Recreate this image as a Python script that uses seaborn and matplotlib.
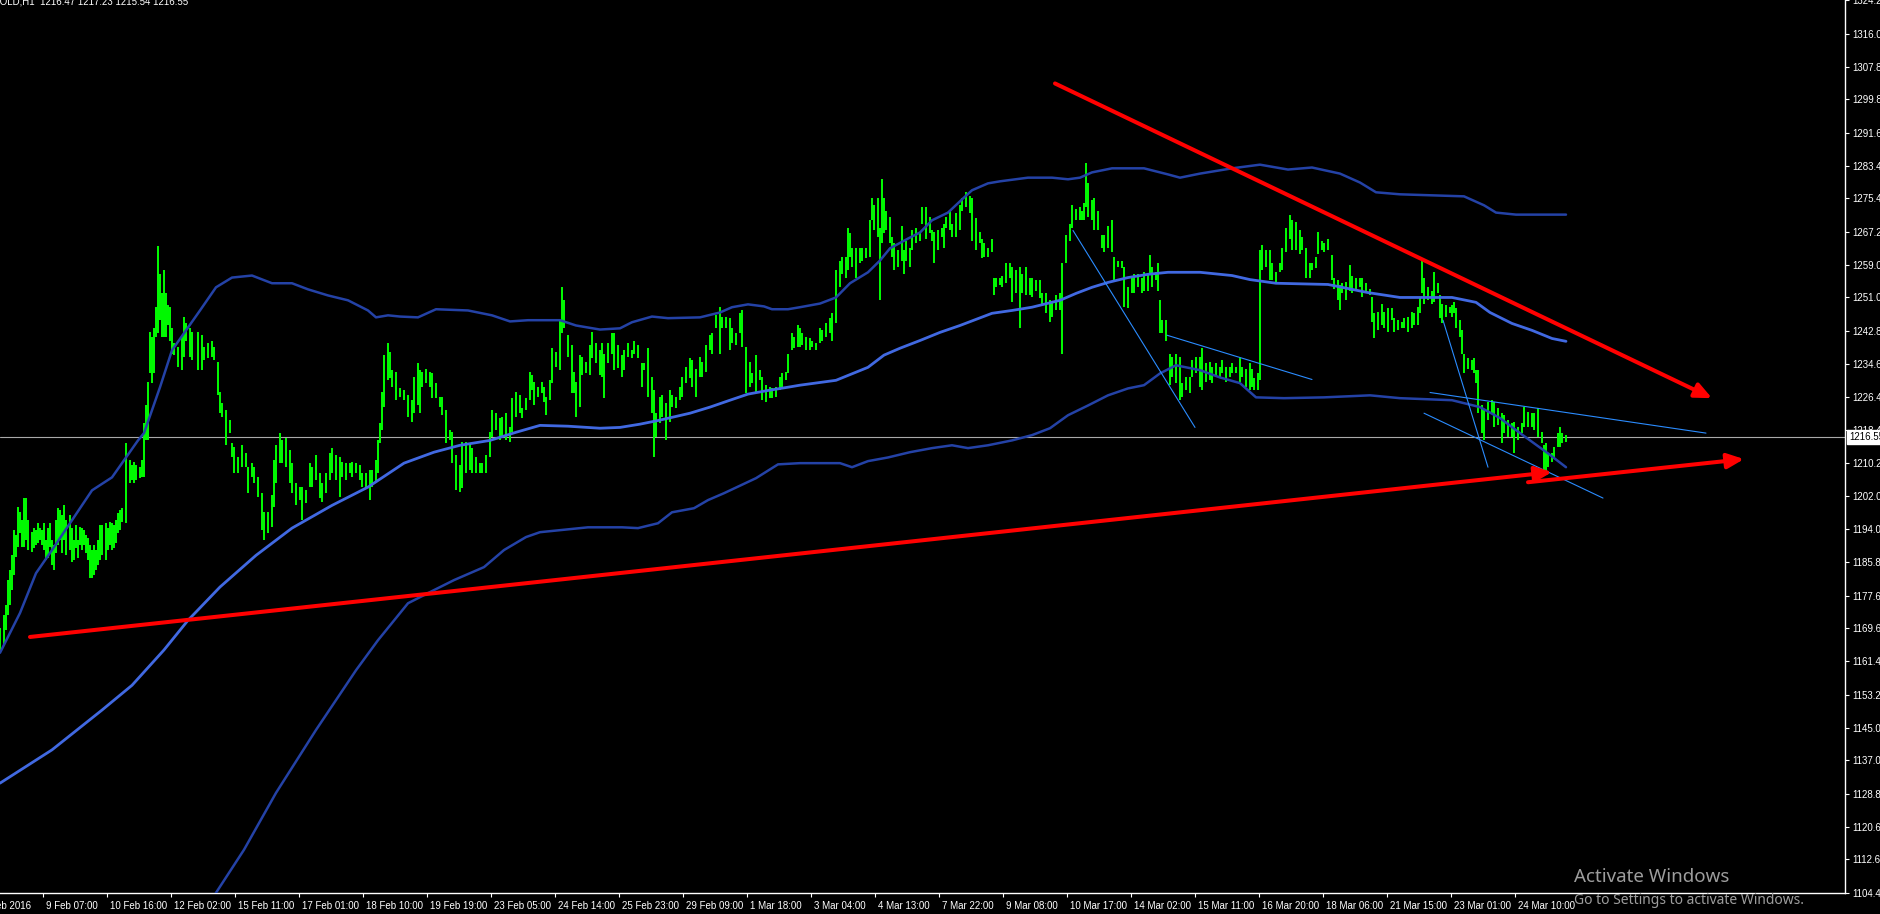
import matplotlib
matplotlib.use("Agg")
import matplotlib.pyplot as plt
import matplotlib.transforms as mtransforms
import seaborn as sns

# ---------------- data ----------------
symbol_line = "GOLD,H1  1216.47 1217.23 1215.54 1216.55"
last_price = 1216.55

price_labels = ["1324.2", "1316.0", "1307.8", "1299.8", "1291.6", "1283.4", "1275.4",
                "1267.2", "1259.0", "1251.0", "1242.8", "1234.6", "1226.4", "1218.4",
                "1210.2", "1202.0", "1194.0", "1185.8", "1177.6", "1169.6", "1161.4",
                "1153.2", "1145.0", "1137.0", "1128.8", "1120.6", "1112.6", "1104.4"]

time_labels = ["8 Feb 2016", "9 Feb 07:00", "10 Feb 16:00", "12 Feb 02:00", "15 Feb 11:00",
               "17 Feb 01:00", "18 Feb 10:00", "19 Feb 19:00", "23 Feb 05:00", "24 Feb 14:00",
               "25 Feb 23:00", "29 Feb 09:00", "1 Mar 18:00", "3 Mar 04:00", "4 Mar 13:00",
               "7 Mar 22:00", "9 Mar 08:00", "10 Mar 17:00", "14 Mar 02:00", "15 Mar 11:00",
               "16 Mar 20:00", "18 Mar 06:00", "21 Mar 15:00", "23 Mar 01:00", "24 Mar 10:00"]
first_label_hour = -10.5     # bar index (H1 bars) of the first time label
label_step_hours = 32        # bars between time labels

# H1 bars: bar index, high, low
bar_hour = [
    0, 2, 3, 4, 5, 6, 7, 8, 9, 10, 11, 12, 13, 14, 16, 17, 18, 19, 20, 21, 22, 23, 24, 25, 26, 27,
    28, 29, 30, 31, 32, 33, 35, 36, 37, 38, 39, 40, 41, 42, 43, 44, 45, 46, 47, 48, 49, 50, 51, 53,
    54, 55, 56, 57, 58, 59, 60, 61, 63, 65, 66, 67, 68, 70, 71, 72, 73, 74, 75, 76, 77, 78, 79, 80,
    81, 82, 83, 84, 85, 86, 87, 89, 91, 92, 93, 95, 96, 99, 101, 102, 104, 106, 107, 109, 110, 111,
    113, 115, 116, 117, 119, 121, 123, 124, 126, 127, 129, 131, 132, 134, 136, 137, 138, 140, 141,
    143, 145, 146, 148, 150, 151, 153, 155, 156, 158, 160, 161, 163, 165, 166, 168, 170, 171, 173,
    175, 176, 178, 180, 181, 183, 185, 186, 188, 189, 190, 191, 192, 194, 195, 196, 198,
    200, 202, 204, 206, 207, 209, 210, 211, 213, 215, 216, 218, 220, 221, 223, 225, 226, 228, 230,
    231, 233, 235, 236, 238, 240, 241, 243, 245, 246, 248, 250, 251, 253, 255, 256, 258, 260, 261,
    263, 265, 266, 267, 269, 271, 272, 273, 275, 276, 278, 280, 281, 282, 284, 286, 287, 288, 290,
    291, 293, 295, 296, 298, 300, 301, 302, 304, 306, 307, 309, 311, 312, 314, 316, 317, 319, 321,
    322, 324, 326, 327, 328, 330, 331, 333, 335, 336, 338, 340, 341, 343, 345, 346, 348, 350, 351,
    353, 355, 356, 358, 360, 361, 363, 365, 366, 368, 370, 371, 373, 375, 376, 378, 380, 381, 383,
    385, 386, 388, 390, 391, 393, 394, 396, 397, 399,
    400, 401, 403, 405, 406, 408, 410, 411, 413, 415, 416, 418, 420, 421, 423, 424, 425, 426, 428,
    430, 431, 433, 435, 436, 437, 439, 440, 441, 442, 443, 445, 446, 447, 449, 451, 452, 453, 455,
    456, 458, 460, 461, 463, 465, 466, 467, 469, 471, 472, 473, 475, 476, 478, 480, 481, 483, 485,
    486, 488, 490, 491, 492, 494, 496, 497, 498, 500, 501, 503, 505, 506, 508, 510, 511, 513, 515,
    516, 518, 520, 521, 523, 525, 526, 528, 530, 531, 533, 535, 536, 538, 540, 541, 542, 543, 544,
    546, 547, 549, 551, 552, 554, 556, 557, 559, 561, 562, 564, 566, 567, 569, 571, 572, 574, 575,
    576, 578, 579, 580, 581, 583, 585, 586, 588, 590, 591, 593, 595, 596, 598,
    600, 601, 603, 605, 606, 608, 610, 611, 613, 615, 616, 618, 620, 621, 623, 625, 626, 627, 629,
    630, 631, 633, 635, 636, 638, 640, 641, 643, 645, 646, 648, 650, 651, 653, 655, 656, 658, 659,
    661, 662, 664, 666, 667, 669, 670, 671, 673, 675, 676, 678, 680, 681, 683, 685, 686, 687, 689,
    691, 692, 694, 696, 697, 699, 701, 702, 704, 706, 707, 709, 710, 711, 712, 714, 716, 717, 719,
    720, 721, 723, 725, 726, 727, 728, 730, 731, 732, 734, 736, 737, 738, 739, 741, 742, 744, 746,
    747, 749, 751, 752, 754, 756, 757, 759, 761, 762, 764, 766, 767, 769, 771, 772, 773, 774, 776,
    777, 779, 780, 781, 783]

bar_high = [
    1169.6, 1172.8, 1175.3, 1181.4, 1183.8, 1187.6, 1193.7, 1192.5, 1199.4, 1198.2, 1196.2, 1201.6,
    1201.6, 1196.2, 1193.2, 1194.2, 1193.7, 1195.4, 1194.2, 1193.7, 1195.4, 1191.2, 1194.2, 1195.4,
    1191.2, 1190.0, 1196.2, 1199.1, 1198.6, 1197.4, 1199.8, 1196.2, 1197.4, 1194.2, 1191.2, 1194.9,
    1191.2, 1194.4, 1194.2, 1193.7, 1192.5, 1191.7, 1190.0, 1188.8, 1190.0, 1188.8, 1191.2, 1194.9,
    1194.9, 1195.4, 1194.2, 1195.7, 1195.4, 1194.9, 1196.2, 1197.9, 1198.6, 1199.1, 1215.1, 1210.9,
    1209.7, 1210.4, 1209.7, 1209.2, 1210.9, 1220.0, 1224.4, 1230.1, 1242.4, 1241.2, 1243.6, 1248.6,
    1263.6, 1256.9, 1252.2, 1257.7, 1252.2, 1249.1, 1248.6, 1243.6, 1239.9, 1238.7, 1241.2, 1246.1,
    1244.6, 1243.4, 1242.4, 1242.4, 1241.7, 1238.7, 1239.7, 1240.4, 1238.7, 1235.0, 1227.6, 1224.9,
    1223.2, 1220.8, 1215.1, 1214.1, 1211.6, 1214.6, 1212.6, 1209.2, 1210.2, 1209.2, 1206.7, 1202.8,
    1198.1, 1198.1, 1202.3, 1210.9, 1214.6, 1217.6, 1215.8, 1216.3, 1213.4, 1210.2, 1205.3, 1204.3,
    1204.3, 1203.5, 1210.2, 1209.2, 1212.1, 1207.7, 1205.3, 1207.7, 1212.6, 1213.9, 1212.1, 1211.6,
    1210.4, 1210.2, 1210.2, 1210.4, 1210.2, 1209.7, 1207.7, 1207.7, 1208.5, 1208.5, 1210.9, 1215.8,
    1220.0, 1227.6, 1236.8, 1239.9, 1237.5, 1233.1, 1232.6,
    1228.6, 1228.1, 1226.9, 1225.7, 1231.3, 1234.8, 1233.1, 1232.6, 1233.5, 1232.6, 1232.3, 1229.9,
    1226.4, 1226.4, 1223.2, 1218.3, 1217.8, 1212.1, 1209.7, 1215.3, 1215.3, 1215.1, 1213.9, 1211.6,
    1210.2, 1210.2, 1212.1, 1217.8, 1223.2, 1222.5, 1221.3, 1221.5, 1222.5, 1219.0, 1226.2, 1227.6,
    1226.9, 1223.7, 1226.2, 1232.6, 1231.8, 1230.1, 1228.9, 1230.1, 1228.9, 1226.4, 1230.6, 1238.5,
    1237.5, 1245.4, 1253.5, 1250.3, 1241.7, 1239.2, 1232.6, 1230.1, 1236.8, 1236.3, 1235.0, 1239.2,
    1242.4, 1239.9, 1238.0, 1239.9, 1237.2, 1239.9, 1242.2, 1242.2, 1239.2, 1236.8, 1238.0, 1239.9,
    1238.0, 1240.4, 1239.2, 1234.8, 1234.8, 1238.5, 1231.3, 1228.1, 1222.5, 1226.4, 1226.9, 1224.9,
    1228.1, 1226.9, 1226.4, 1228.9, 1231.3, 1233.8, 1236.0, 1235.5, 1233.5, 1236.3, 1235.0, 1239.2,
    1241.7, 1242.2, 1246.6, 1248.6, 1246.1, 1246.1, 1245.9, 1243.4, 1242.2, 1247.1, 1247.8, 1238.7,
    1235.0, 1232.3, 1236.8, 1233.1, 1231.3, 1229.4, 1228.9, 1228.6, 1228.9, 1231.3, 1232.3, 1232.6,
    1237.2, 1242.2, 1241.2, 1244.1,
    1243.6, 1242.2, 1241.2, 1240.9, 1240.4, 1239.9, 1243.4, 1242.9, 1244.6, 1245.9, 1247.1, 1257.7,
    1260.1, 1260.9, 1260.9, 1268.2, 1266.8, 1263.3, 1263.1, 1263.1, 1263.1, 1263.1, 1270.0, 1275.4,
    1273.7, 1275.4, 1268.2, 1280.1, 1275.6, 1272.4, 1270.7, 1265.8, 1264.3, 1262.6, 1268.7, 1262.6,
    1265.0, 1263.3, 1267.5, 1268.2, 1267.0, 1273.2, 1273.2, 1270.7, 1267.5, 1267.0, 1267.5, 1268.2,
    1269.2, 1270.7, 1272.4, 1269.2, 1271.7, 1273.7, 1275.6, 1276.9, 1276.1, 1275.6, 1270.5, 1267.0,
    1265.5, 1264.5, 1263.3, 1265.5, 1255.9, 1255.9, 1255.7, 1256.4, 1259.4, 1259.6, 1258.4, 1257.7,
    1258.4, 1256.9, 1258.4, 1255.7, 1255.9, 1255.2, 1255.2, 1252.2, 1252.2, 1250.3, 1249.8, 1251.5,
    1252.0, 1259.4, 1266.3, 1269.2, 1273.7, 1272.9, 1273.2, 1272.4, 1274.2, 1284.2, 1279.1, 1274.9,
    1275.6, 1272.4, 1266.3, 1266.3, 1268.7, 1270.0, 1260.9, 1260.1, 1260.1, 1258.4, 1253.5, 1255.9,
    1256.9, 1256.9, 1255.9, 1257.2, 1256.9, 1261.4, 1258.4, 1257.2, 1259.4, 1250.3, 1245.4, 1245.4,
    1237.2, 1236.3, 1237.2, 1236.3, 1229.9, 1231.3, 1231.3, 1235.5, 1236.3,
    1236.3, 1238.5, 1234.8, 1235.0, 1233.8, 1234.8, 1233.8, 1235.5, 1233.8, 1233.8, 1234.8, 1233.8,
    1236.0, 1233.8, 1233.5, 1234.8, 1233.5, 1231.1, 1232.3, 1262.6, 1263.8, 1262.6, 1262.6, 1259.4,
    1257.2, 1259.6, 1263.3, 1268.2, 1271.2, 1270.0, 1269.5, 1267.5, 1265.8, 1263.1, 1259.4, 1259.6,
    1260.9, 1267.0, 1265.0, 1264.3, 1265.5, 1261.4, 1255.7, 1255.2, 1254.0, 1254.5, 1254.7, 1258.9,
    1256.4, 1255.9, 1255.9, 1255.7, 1254.5, 1253.2, 1251.0, 1247.1, 1247.3, 1249.5, 1247.3, 1248.3,
    1248.3, 1245.9, 1245.4, 1244.9, 1245.9, 1246.1, 1247.3, 1247.1, 1248.6, 1250.8, 1260.1, 1255.9,
    1253.5, 1252.7, 1257.2, 1254.5, 1251.5, 1249.5, 1249.1, 1248.6, 1249.1, 1249.8, 1248.3, 1245.4,
    1242.9, 1237.2, 1236.0, 1235.5, 1236.0, 1233.1, 1233.1, 1224.4, 1223.2, 1225.2, 1225.7, 1225.2,
    1223.7, 1222.5, 1222.0, 1220.8, 1220.0, 1220.3, 1219.0, 1220.0, 1224.0, 1222.7, 1222.5, 1222.5,
    1223.7, 1217.8, 1214.6, 1215.1, 1212.6, 1212.6, 1214.1, 1217.6, 1219.0, 1217.6, 1217.2]

bar_low = [
    1164.2, 1165.4, 1169.1, 1172.8, 1175.3, 1178.9, 1182.7, 1187.1, 1189.5, 1193.0, 1189.5, 1189.5,
    1191.2, 1188.8, 1188.3, 1189.3, 1190.0, 1190.5, 1191.2, 1190.0, 1188.8, 1186.3, 1186.8, 1189.5,
    1185.1, 1183.8, 1188.0, 1190.0, 1191.2, 1188.0, 1191.2, 1187.6, 1188.8, 1185.8, 1186.3, 1189.3,
    1186.8, 1190.0, 1188.8, 1190.0, 1188.0, 1186.3, 1181.9, 1181.9, 1182.6, 1183.8, 1185.1, 1186.3,
    1187.6, 1186.3, 1188.8, 1190.0, 1188.8, 1189.3, 1190.5, 1193.0, 1193.7, 1195.7, 1195.4, 1205.3,
    1206.0, 1205.3, 1206.0, 1206.5, 1206.7, 1206.7, 1215.8, 1215.8, 1232.3, 1229.9, 1232.3, 1241.2,
    1242.2, 1245.4, 1241.2, 1241.2, 1241.2, 1244.1, 1240.4, 1237.2, 1236.8, 1233.8, 1233.1, 1236.3,
    1240.4, 1236.3, 1235.5, 1233.1, 1233.1, 1235.5, 1236.0, 1236.3, 1235.5, 1226.9, 1222.5, 1221.5,
    1214.6, 1217.6, 1211.6, 1207.7, 1207.7, 1209.2, 1209.2, 1202.8, 1206.7, 1205.3, 1201.8, 1193.7,
    1191.2, 1193.0, 1194.4, 1199.4, 1205.3, 1210.2, 1210.2, 1209.2, 1205.3, 1202.8, 1199.8, 1201.1,
    1196.2, 1200.3, 1204.3, 1204.3, 1206.0, 1201.6, 1200.6, 1202.8, 1206.0, 1207.7, 1206.0, 1201.8,
    1206.7, 1206.0, 1207.7, 1206.7, 1207.7, 1206.0, 1204.3, 1204.3, 1201.1, 1204.3, 1205.3, 1207.7,
    1215.1, 1218.3, 1224.0, 1230.6, 1231.1, 1228.9, 1225.7,
    1226.4, 1225.7, 1221.5, 1220.3, 1222.5, 1224.4, 1222.5, 1228.9, 1229.9, 1228.9, 1226.2, 1226.2,
    1224.0, 1222.0, 1215.1, 1215.8, 1210.2, 1203.5, 1203.0, 1204.0, 1207.7, 1208.5, 1207.7, 1207.7,
    1207.7, 1207.7, 1207.7, 1211.6, 1216.6, 1218.3, 1215.8, 1216.6, 1215.8, 1215.3, 1217.8, 1221.5,
    1222.5, 1221.3, 1223.2, 1225.7, 1228.1, 1224.4, 1226.4, 1227.4, 1225.2, 1222.0, 1225.7, 1229.9,
    1233.8, 1233.1, 1242.2, 1243.6, 1236.3, 1227.4, 1227.4, 1221.5, 1224.0, 1231.8, 1232.3, 1231.8,
    1236.0, 1234.8, 1231.8, 1231.3, 1226.2, 1234.8, 1237.2, 1233.1, 1233.6, 1231.3, 1233.1, 1236.3,
    1236.0, 1237.2, 1236.0, 1228.9, 1233.1, 1226.4, 1222.5, 1211.6, 1216.6, 1220.0, 1221.5, 1215.8,
    1220.3, 1224.0, 1223.7, 1225.7, 1226.4, 1229.9, 1231.1, 1228.9, 1226.4, 1231.3, 1231.3, 1232.6,
    1238.0, 1237.2, 1243.6, 1237.2, 1243.6, 1243.4, 1238.0, 1239.7, 1239.2, 1242.2, 1238.7, 1227.4,
    1228.9, 1229.9, 1227.4, 1230.6, 1225.7, 1225.2, 1226.2, 1226.2, 1226.4, 1228.1, 1228.9, 1230.6,
    1232.3, 1238.0, 1238.5, 1238.7,
    1238.7, 1239.2, 1238.0, 1238.0, 1238.7, 1238.0, 1239.9, 1240.4, 1241.2, 1242.2, 1240.4, 1244.6,
    1253.5, 1256.9, 1255.9, 1257.7, 1260.9, 1258.4, 1255.9, 1259.4, 1260.1, 1260.6, 1260.9, 1270.0,
    1267.5, 1265.8, 1250.3, 1264.3, 1266.8, 1267.5, 1264.3, 1260.9, 1257.7, 1258.4, 1260.1, 1256.9,
    1260.1, 1258.4, 1262.6, 1264.3, 1265.0, 1269.2, 1265.5, 1266.8, 1265.0, 1259.4, 1262.6, 1265.8,
    1263.3, 1268.2, 1267.5, 1265.8, 1265.8, 1267.5, 1272.4, 1273.2, 1271.9, 1265.0, 1262.6, 1264.5,
    1260.6, 1260.9, 1260.9, 1262.1, 1251.5, 1253.5, 1254.0, 1253.5, 1254.5, 1255.9, 1249.8, 1252.0,
    1243.4, 1252.2, 1251.5, 1251.5, 1251.0, 1252.7, 1250.8, 1249.5, 1247.1, 1244.9, 1246.1, 1247.8,
    1247.8, 1237.2, 1259.4, 1265.0, 1268.0, 1270.0, 1270.0, 1270.0, 1270.0, 1273.2, 1270.7, 1270.0,
    1267.5, 1267.5, 1263.1, 1262.1, 1263.3, 1262.1, 1255.2, 1258.4, 1258.2, 1248.6, 1248.3, 1252.0,
    1252.2, 1253.5, 1252.2, 1252.7, 1252.7, 1256.9, 1253.5, 1255.2, 1252.7, 1242.2, 1242.2, 1240.4,
    1229.4, 1231.3, 1229.9, 1225.7, 1226.4, 1228.1, 1227.4, 1231.3, 1232.3,
    1228.9, 1228.1, 1230.1, 1230.6, 1229.9, 1231.3, 1231.3, 1232.3, 1230.1, 1231.3, 1232.3, 1232.3,
    1230.1, 1231.3, 1228.9, 1228.1, 1228.9, 1228.1, 1228.1, 1230.6, 1257.7, 1258.4, 1255.2, 1255.2,
    1254.7, 1257.2, 1257.7, 1262.1, 1265.5, 1262.6, 1262.6, 1261.8, 1262.6, 1255.9, 1255.9, 1257.7,
    1258.2, 1261.8, 1262.6, 1262.1, 1262.6, 1255.2, 1253.2, 1250.3, 1247.8, 1252.0, 1250.3, 1252.7,
    1252.0, 1253.2, 1253.5, 1251.0, 1252.0, 1251.5, 1244.9, 1240.9, 1242.9, 1244.1, 1243.6, 1242.4,
    1245.4, 1242.4, 1242.9, 1243.4, 1243.6, 1242.4, 1243.6, 1244.1, 1244.1, 1247.1, 1252.0, 1249.5,
    1250.3, 1249.5, 1249.8, 1252.0, 1245.9, 1244.6, 1246.1, 1247.1, 1246.1, 1247.1, 1243.6, 1241.2,
    1237.2, 1232.3, 1233.5, 1233.1, 1232.3, 1229.9, 1222.5, 1217.6, 1215.8, 1220.8, 1222.5, 1219.0,
    1219.5, 1215.1, 1217.6, 1216.6, 1216.6, 1212.6, 1215.8, 1217.6, 1219.0, 1219.0, 1219.0, 1218.3,
    1216.6, 1215.1, 1208.5, 1207.7, 1209.2, 1210.4, 1211.6, 1214.1, 1214.1, 1215.1, 1215.5]

# indicator bands (bar index, price)
upper_hour = [0, 10, 18, 26, 46, 56, 69, 72, 80, 86, 100, 108, 116, 126, 136, 146, 154, 164, 174,
              184, 188, 194, 200, 209, 218, 234, 246, 255, 264, 280, 288, 300, 310, 316, 326, 334,
              350, 360, 366, 374, 382, 386, 394, 400, 410, 418, 425, 434, 440, 445, 454, 460, 466,
              474, 482, 486, 494, 500, 514, 526, 534, 540, 546, 556, 572, 584, 590, 600, 616, 630,
              644, 656, 670, 680, 688, 700, 732, 742, 748, 758, 783]
upper_val = [1163.5, 1173.3, 1183.1, 1188.8, 1203.5, 1206.7, 1215.8, 1217.6, 1228.9, 1238.0,
             1247.8, 1253.5, 1255.9, 1256.4, 1254.5, 1254.5, 1253.0, 1251.5, 1250.3, 1247.8,
             1246.1, 1246.6, 1246.3, 1246.1, 1248.1, 1247.8, 1246.6, 1245.1, 1245.4, 1245.4,
             1244.1, 1243.1, 1243.4, 1244.9, 1246.3, 1245.9, 1246.1, 1247.3, 1248.6, 1249.3,
             1248.8, 1248.1, 1248.1, 1248.6, 1249.5, 1251.0, 1254.5, 1257.2, 1260.1, 1263.1,
             1265.5, 1267.0, 1270.0, 1271.9, 1275.6, 1277.4, 1279.1, 1279.6, 1280.5, 1280.5,
             1280.1, 1280.5, 1281.8, 1282.8, 1282.8, 1281.3, 1280.5, 1281.5, 1282.8, 1283.7,
             1282.5, 1283.0, 1281.5, 1279.3, 1276.9, 1276.4, 1275.9, 1273.7, 1271.9, 1271.4, 1271.4]

mid_hour = [0, 26, 51, 66, 82, 94, 110, 128, 146, 166, 184, 202, 217, 230, 245, 258, 270, 284, 300,
            310, 320, 330, 345, 355, 365, 374, 384, 394, 400, 418, 434, 442, 450, 460, 470, 480,
            496, 506, 516, 530, 538, 546, 554, 564, 574, 584, 600, 616, 625, 638, 664, 684, 700,
            726, 738, 745, 756, 766, 776, 783]
mid_val = [1131.4, 1139.6, 1149.4, 1155.5, 1164.2, 1171.5, 1179.7, 1187.5, 1194.2, 1199.8, 1204.3,
           1210.2, 1212.9, 1214.6, 1215.8, 1217.8, 1219.5, 1219.3, 1218.8, 1219.0, 1219.8, 1220.8,
           1222.5, 1224.0, 1225.7, 1227.2, 1228.1, 1228.9, 1229.4, 1230.6, 1233.8, 1236.8, 1238.5,
           1240.4, 1242.4, 1244.1, 1247.1, 1247.8, 1248.6, 1250.3, 1252.0, 1253.5, 1254.7, 1255.9,
           1256.7, 1257.2, 1257.2, 1256.4, 1255.4, 1254.5, 1254.2, 1252.2, 1251.0, 1251.0, 1249.8,
           1247.3, 1244.6, 1242.9, 1240.9, 1240.2]

lower_hour = [104, 108, 122, 138, 158, 178, 189, 204, 214, 227, 242, 252, 263, 270, 294, 311, 319,
              329, 336, 347, 354, 362, 378, 389, 400, 420, 426, 434, 444, 455, 466, 476, 484, 494,
              506, 516, 525, 534, 544, 554, 564, 572, 580, 588, 600, 610, 620, 628, 642, 662, 685,
              700, 726, 740, 750, 760, 774, 783]
lower_val = [1100.0, 1104.4, 1115.0, 1129.0, 1144.5, 1159.2, 1166.6, 1175.7, 1178.2, 1181.4,
             1184.6, 1188.8, 1192.0, 1193.2, 1194.4, 1194.4, 1194.2, 1195.4, 1198.1, 1199.1,
             1201.1, 1202.8, 1206.5, 1209.9, 1210.2, 1210.2, 1209.2, 1210.7, 1211.6, 1212.9,
             1213.9, 1214.6, 1213.9, 1214.6, 1215.8, 1217.1, 1218.8, 1222.0, 1224.4, 1226.9,
             1228.6, 1229.4, 1232.3, 1234.3, 1233.1, 1231.3, 1229.9, 1226.4, 1226.2, 1226.4,
             1226.9, 1226.2, 1225.7, 1224.0, 1221.3, 1217.6, 1212.6, 1209.2]

# hand-drawn trend objects: ((bar, price) start, (bar, price) end)
red_arrows = [((15.0, 1167.4), (776.0, 1208.0)),
              ((764.0, 1205.5), (872.0, 1211.2)),
              ((527.5, 1303.7), (856.0, 1226.2))]
blue_trendlines = [((536.5, 1267.5), (597.5, 1219.0)),
                   ((583.5, 1241.7), (656.0, 1230.8)),
                   ((721.5, 1245.4), (744.0, 1209.2)),
                   ((715.0, 1227.6), (853.0, 1217.6)),
                   ((712.0, 1222.5), (801.5, 1201.6))]

# ---------------- style ----------------
W, H, DPI = 1880, 914, 100
PLOT_RIGHT_PX, PLOT_BOTTOM_PX = 1845, 893
FS = 7.0

sns.set_theme(style="dark", rc={"axes.facecolor": "black", "figure.facecolor": "black"})
plt.rcParams["font.family"] = ["Liberation Sans", "DejaVu Sans"]

fig = plt.figure(figsize=(W / DPI, H / DPI), dpi=DPI, facecolor="black")
ax = fig.add_axes([0, (H - PLOT_BOTTOM_PX) / H, PLOT_RIGHT_PX / W, PLOT_BOTTOM_PX / H])
ax.set_facecolor("black")
ax.grid(False)

# current price line
ax.axhline(last_price, color="#a9a9a9", lw=0.8, zorder=1)

# bars
ax.vlines(bar_hour, bar_low, bar_high, colors="#00ff00", linewidth=1.4, zorder=2)

# bands
sns.lineplot(x=upper_hour, y=upper_val, ax=ax, color="#2442a6", linewidth=1.8,
             estimator=None, sort=False, zorder=3)
sns.lineplot(x=lower_hour, y=lower_val, ax=ax, color="#2442a6", linewidth=1.8,
             estimator=None, sort=False, zorder=3)
sns.lineplot(x=mid_hour, y=mid_val, ax=ax, color="#4169e1", linewidth=2.0,
             estimator=None, sort=False, zorder=3)

# thin blue trend lines
for (x0, y0), (x1, y1) in blue_trendlines:
    ax.plot([x0, x1], [y0, y1], color="#2b8cff", lw=0.8, zorder=4)

# red arrows
for (x0, y0), (x1, y1) in red_arrows:
    ax.annotate("", xy=(x1, y1), xytext=(x0, y0),
                arrowprops=dict(arrowstyle="-|>,head_length=1.0,head_width=0.45",
                                color="#ff0000", lw=2.9, shrinkA=0, shrinkB=0,
                                mutation_scale=10),
                annotation_clip=False, zorder=5)

ax.set_xlim(0, PLOT_RIGHT_PX / 2)
ax.set_ylim(1104.35, 1324.25)

# frame
for side in ["left", "top"]:
    ax.spines[side].set_visible(False)
for side in ["right", "bottom"]:
    ax.spines[side].set_visible(True)
    ax.spines[side].set_color("white")
    ax.spines[side].set_linewidth(1.0)

# price axis
ax.yaxis.tick_right()
ax.set_yticks([float(s) for s in price_labels])
ax.set_yticklabels(price_labels)
ax.tick_params(axis="y", colors="white", labelcolor="white", length=3, width=0.8,
               pad=2.5, labelsize=FS, direction="out", right=True, left=False)

# time axis
tick_hours = [first_label_hour + label_step_hours * k for k in range(len(time_labels))]
ax.set_xticks(tick_hours[1:])
ax.set_xticklabels(time_labels[1:])
ax.tick_params(axis="x", colors="white", labelcolor="white", length=3, width=0.8,
               pad=2.5, labelsize=FS, direction="out", bottom=True)
shift = mtransforms.ScaledTranslation(3 / DPI, 0, fig.dpi_scale_trans)
for lbl in ax.get_xticklabels():
    lbl.set_horizontalalignment("left")
    lbl.set_transform(lbl.get_transform() + shift)
first_tf = mtransforms.blended_transform_factory(ax.transData, ax.transAxes) + \
    mtransforms.ScaledTranslation(3 / DPI, -5.5 / 72, fig.dpi_scale_trans)
ax.text(tick_hours[0], 0, time_labels[0], transform=first_tf, color="white", fontsize=FS,
        ha="left", va="top", clip_on=False)

# current price tag
ax.annotate(f"{last_price:.2f}", xy=(1, last_price), xycoords=("axes fraction", "data"),
            xytext=(4, 0), textcoords="offset pixels", ha="left", va="center",
            color="black", fontsize=FS,
            bbox=dict(boxstyle="square,pad=0.2", fc="white", ec="white"),
            annotation_clip=False, zorder=10)

# header text
fig.text(-8 / W, 1 - 5 / H, symbol_line, color="white", fontsize=FS, ha="left", va="baseline")

# OS watermark
fig.text(1574 / W, 1 - 877 / H, "Activate Windows", color="#9d9d9d", fontsize=13.5,
         family=["Noto Sans", "DejaVu Sans"], ha="left", va="center")
fig.text(1574 / W, 1 - 900 / H, "Go to Settings to activate Windows.", color="#9d9d9d",
         fontsize=10, family=["Noto Sans", "DejaVu Sans"], ha="left", va="center")

fig.savefig("out.png", dpi=DPI, facecolor="black")
